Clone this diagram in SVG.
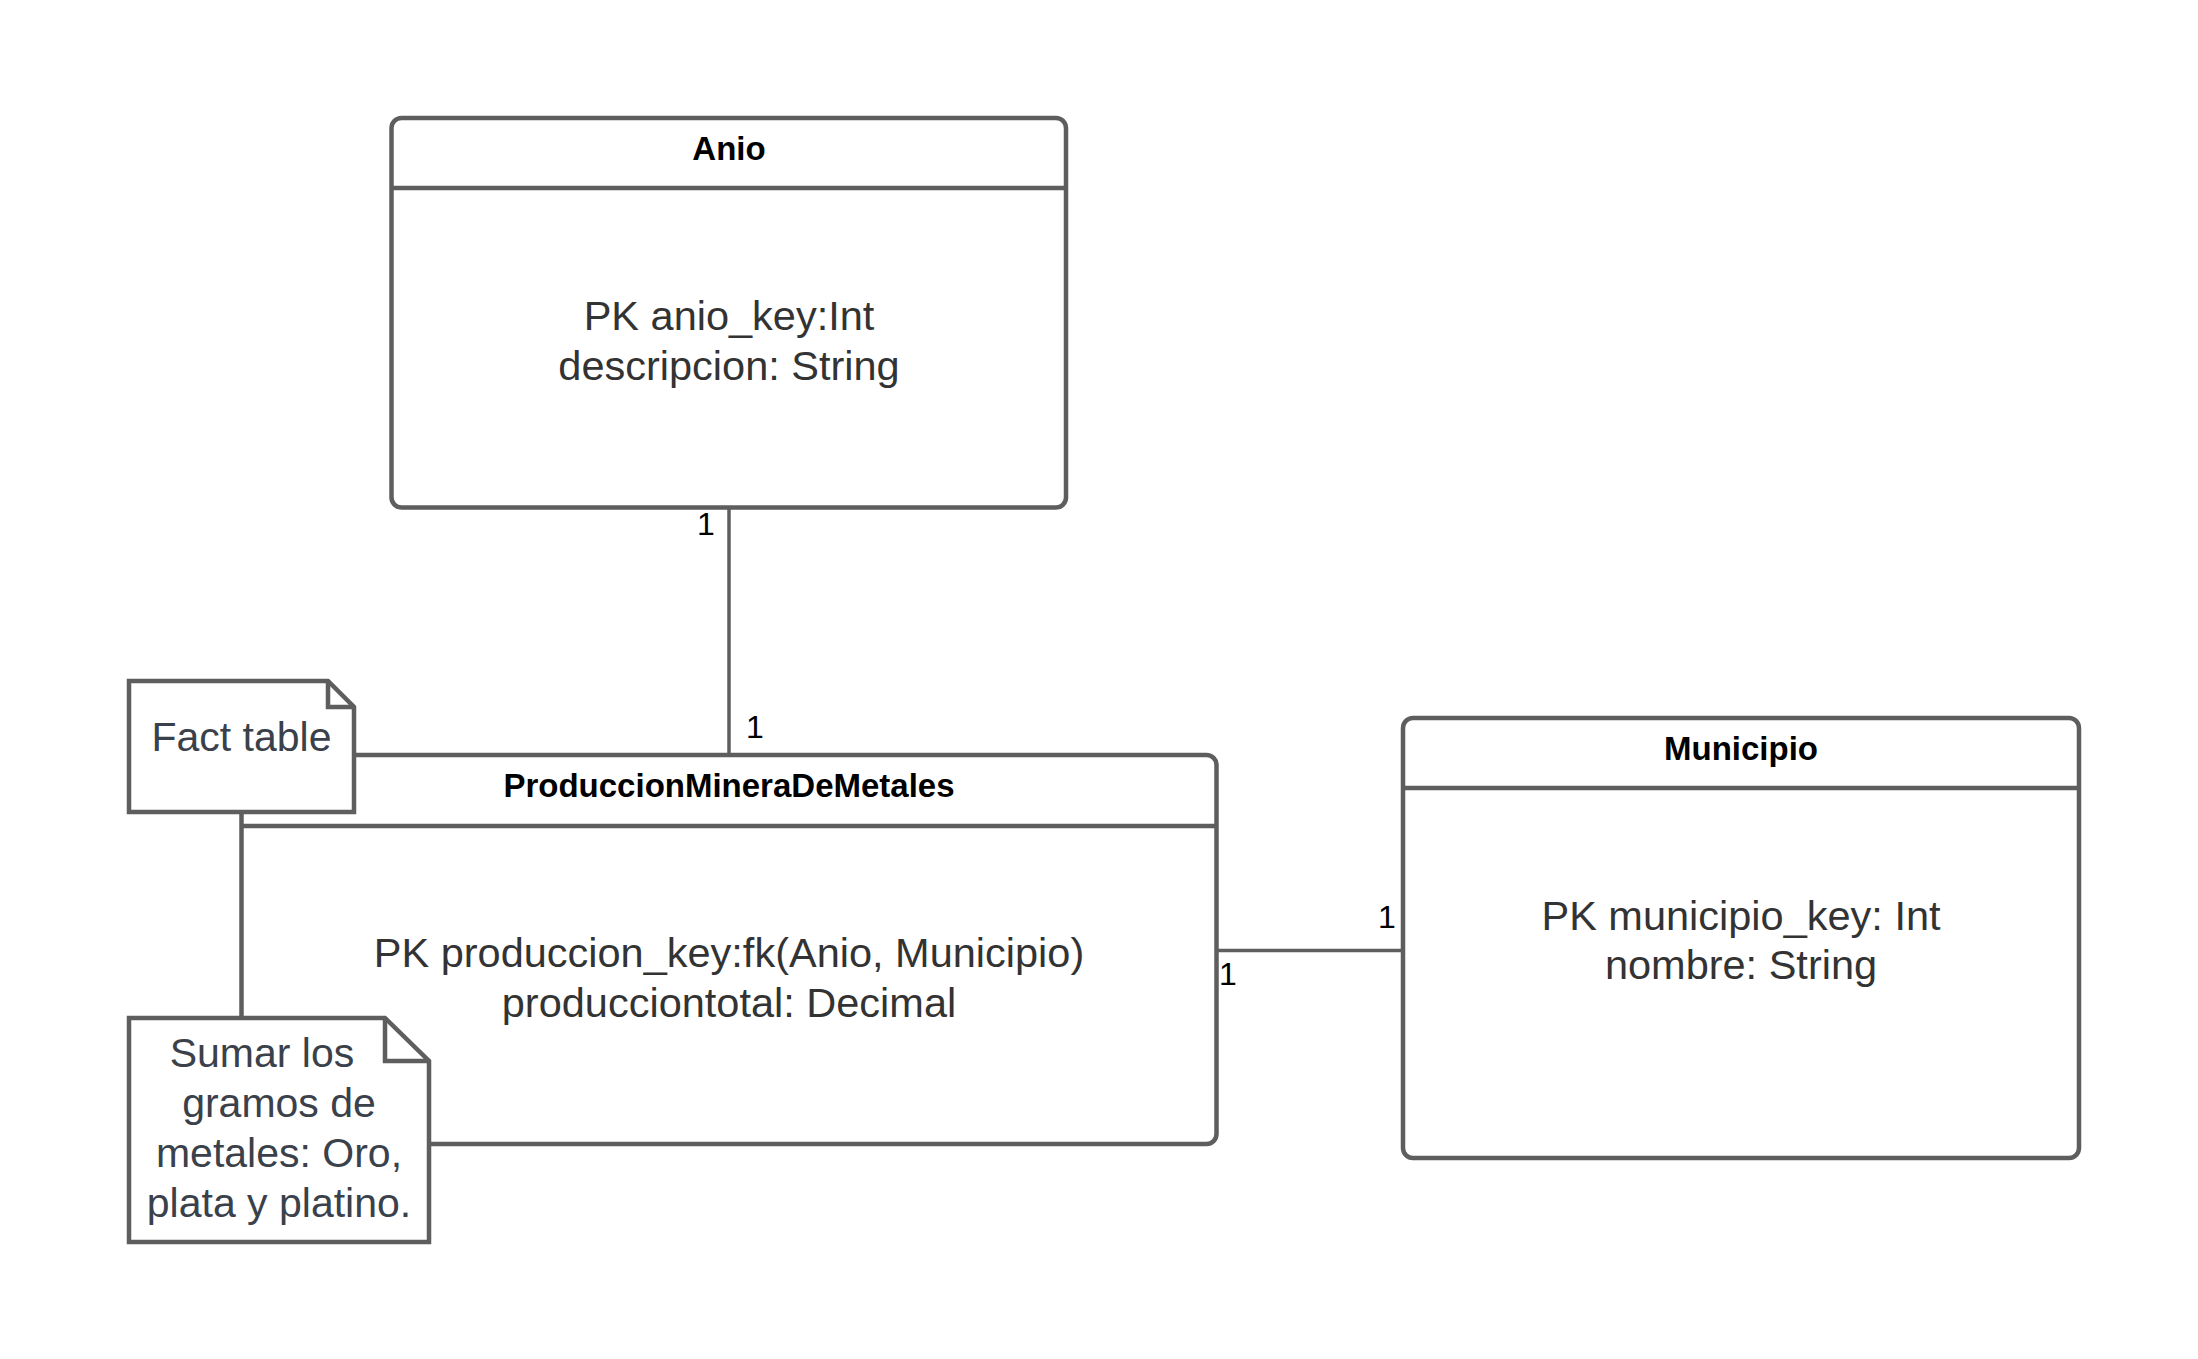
<svg xmlns="http://www.w3.org/2000/svg" width="2198" height="1359" viewBox="0 0 2198 1359">
<style>
.box{fill:#ffffff;stroke:#5e5e5e;stroke-width:4.5}
.div{stroke:#5e5e5e;stroke-width:4.5;fill:none}
.title{font-family:"Liberation Sans",Arial,sans-serif;font-weight:bold;font-size:33px;fill:#000000;text-anchor:middle}
.body{font-family:"Liberation Sans",Arial,sans-serif;font-size:41.5px;fill:#333333;text-anchor:middle}
.note{font-family:"Liberation Sans",Arial,sans-serif;font-size:41px;fill:#3a414a;text-anchor:middle}
.conn{stroke:#5e5e5e;stroke-width:3.5;fill:none}
.card{font-family:"Liberation Sans",Arial,sans-serif;font-size:32px;fill:#000000;text-anchor:middle}
</style>
<rect width="2198" height="1359" fill="#ffffff"/>
<g id="connectors">
<line class="conn" x1="729" y1="507" x2="729" y2="755"/>
<line class="conn" x1="1216.5" y1="950.5" x2="1403" y2="950.5"/>
<text class="card" x="706" y="535">1</text>
<text class="card" x="755" y="738">1</text>
<text class="card" x="1387" y="928">1</text>
<text class="card" x="1228" y="985">1</text>
</g>
<g id="anio">
<rect class="box" x="391.5" y="118" width="674.5" height="389.5" rx="10"/>
<line class="div" x1="391.5" y1="188" x2="1066" y2="188"/>
<text class="title" x="729" y="160">Anio</text>
<text class="body" x="729" y="330">PK anio_key:Int</text>
<text class="body" x="729" y="380">descripcion: String</text>
</g>
<g id="produccion">
<rect class="box" x="241.5" y="755" width="975" height="389" rx="10"/>
<line class="div" x1="241.5" y1="826" x2="1216.5" y2="826"/>
<text class="title" x="729" y="797">ProduccionMineraDeMetales</text>
<text class="body" x="729" y="967">PK produccion_key:fk(Anio, Municipio)</text>
<text class="body" x="729" y="1017">producciontotal: Decimal</text>
</g>
<g id="municipio">
<rect class="box" x="1403" y="718" width="676" height="440" rx="10"/>
<line class="div" x1="1403" y1="788" x2="2079" y2="788"/>
<text class="title" x="1741" y="760">Municipio</text>
<text class="body" x="1741" y="930">PK municipio_key: Int</text>
<text class="body" x="1741" y="979">nombre: String</text>
</g>
<g id="note-fact-table">
<path class="box" d="M129,681 H328 L354,707 V812 H129 Z"/>
<path class="div" d="M328,681 V707 H354"/>
<text class="note" x="241.5" y="751">Fact table</text>
</g>
<g id="note-sumar">
<path class="box" d="M129,1018 H385 L429,1061 V1242 H129 Z"/>
<path class="div" d="M385,1018 V1061 H429"/>
<text class="note" x="262" y="1067">Sumar los</text>
<text class="note" x="279" y="1117">gramos de</text>
<text class="note" x="279" y="1167">metales: Oro,</text>
<text class="note" x="279" y="1217">plata y platino.</text>
</g>
</svg>
